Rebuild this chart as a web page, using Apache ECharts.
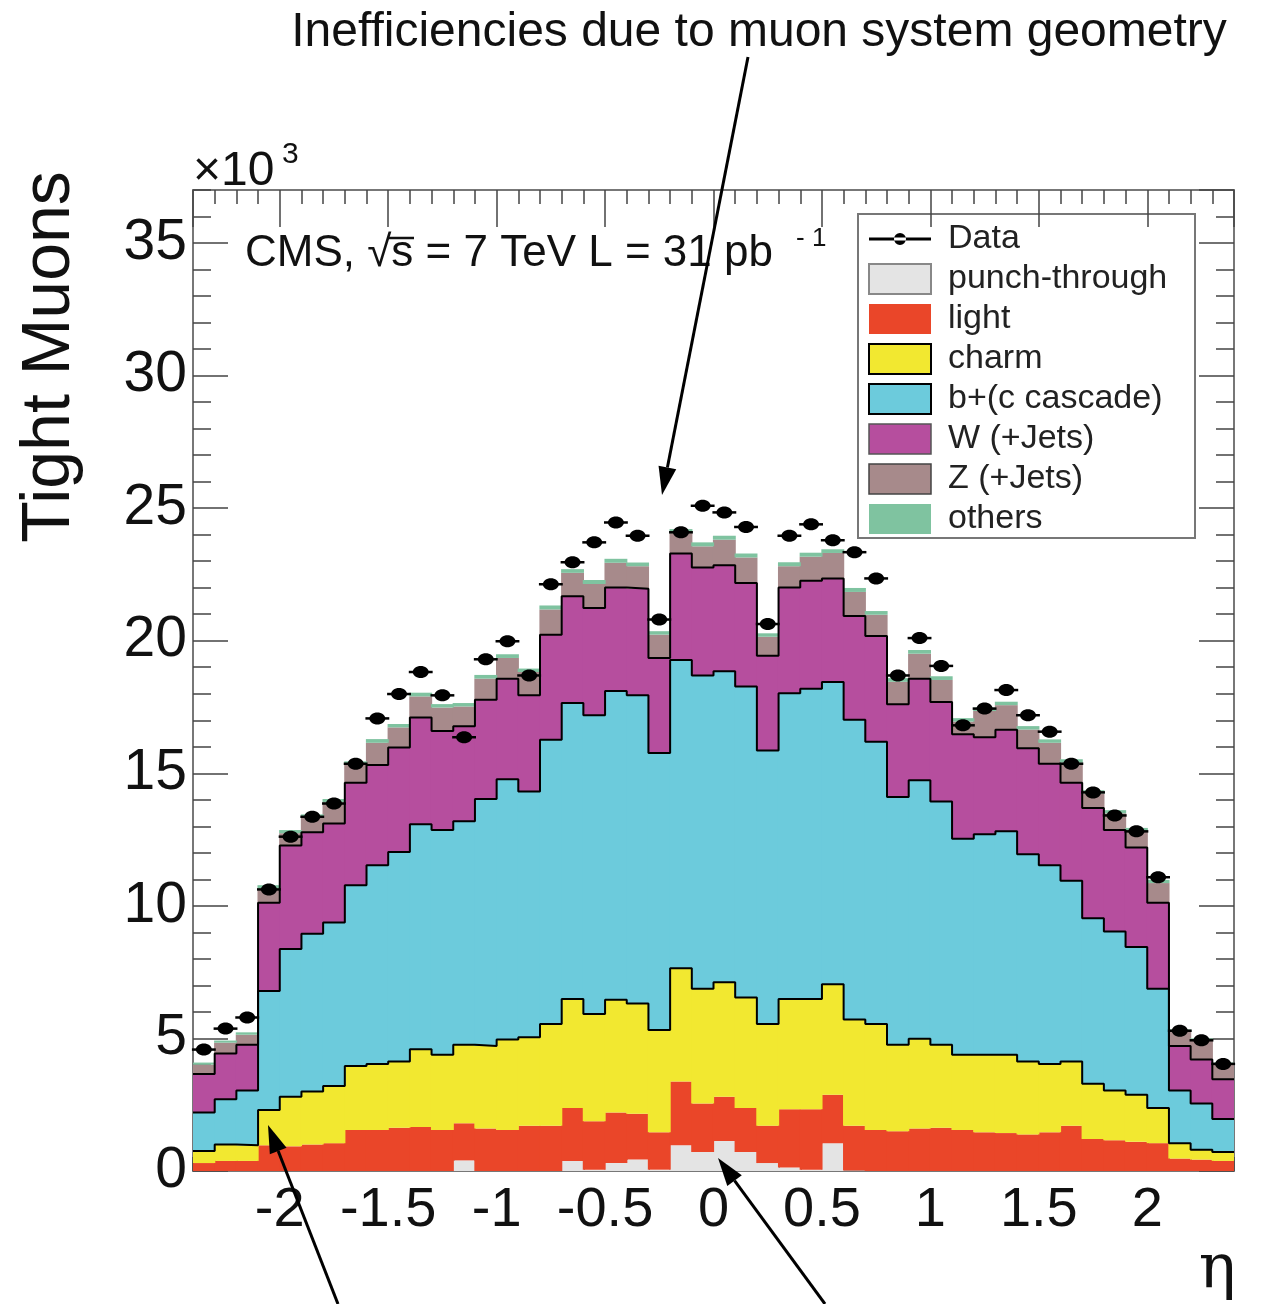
<!DOCTYPE html>
<html>
<head>
<meta charset="utf-8">
<script src="https://cdn.jsdelivr.net/npm/echarts@6/dist/echarts.min.js"></script>
<style>html,body{margin:0;padding:0;background:#fff}#c{width:1263px;height:1304px}</style>
</head>
<body>
<div id="c"></div>
<script>
// 48 bins of eta, width 0.1, from -2.4 to 2.4 ; values in units of 10^3 muons
const etaBins = ['-2.4','-2.3','-2.2','-2.1','-2.0','-1.9','-1.8','-1.7','-1.6','-1.5','-1.4','-1.3','-1.2','-1.1','-1.0','-0.9','-0.8','-0.7','-0.6','-0.5','-0.4','-0.3','-0.2','-0.1',
                 '0.0','0.1','0.2','0.3','0.4','0.5','0.6','0.7','0.8','0.9','1.0','1.1','1.2','1.3','1.4','1.5','1.6','1.7','1.8','1.9','2.0','2.1','2.2','2.3'];
const etaMin = -2.4, etaMax = 2.4, binWidth = 0.1;

const punchThrough = [0,0,0,0,0,0,0,0,0,0,0,0,0.40,0,0,0,0,0.38,0.05,0.30,0.43,0.05,0.97,0.72,
                      1.13,0.72,0.30,0.13,0.05,1.05,0.02,0,0,0,0,0,0,0,0,0,0,0,0,0,0,0,0,0];
const light = [0.30,0.38,0.38,0.97,0.93,1.00,1.05,1.55,1.55,1.63,1.66,1.55,1.40,1.60,1.55,1.71,1.71,2.00,1.83,1.91,1.73,1.41,2.41,1.83,
               1.67,1.66,1.41,2.20,2.28,1.83,1.69,1.55,1.50,1.60,1.63,1.55,1.46,1.43,1.38,1.46,1.71,1.21,1.16,1.10,1.05,0.47,0.43,0.38];
const charm = [0.45,0.62,0.59,1.33,1.87,2.00,2.16,2.41,2.49,2.50,2.93,2.83,2.96,3.11,3.41,3.33,3.83,4.11,4.04,4.25,4.16,3.86,4.27,4.32,
               4.32,4.16,3.83,4.16,4.16,4.16,4.00,3.99,3.26,3.39,3.13,2.83,2.92,2.95,2.75,2.58,2.42,2.08,1.88,1.78,1.33,0.58,0.37,0.34];
const bottom = [1.46,1.71,2.07,4.49,5.57,5.95,6.16,6.82,7.49,7.90,8.49,8.48,8.43,9.32,9.82,9.27,10.73,11.16,11.27,11.64,11.62,10.45,11.62,11.82,
                11.73,11.73,10.32,11.53,11.70,11.40,11.31,10.65,9.35,9.75,9.18,8.15,8.32,8.43,7.82,7.49,6.82,6.24,5.99,5.57,4.49,1.99,1.75,1.24];
const wJets = [1.45,1.72,1.72,3.33,3.91,3.83,3.74,3.86,3.78,3.94,4.02,3.74,3.58,3.74,3.79,3.63,3.96,4.03,4.04,3.91,4.02,3.58,4.02,4.07,
               4.00,3.91,3.57,3.99,4.07,3.91,3.91,3.99,3.49,3.83,3.75,3.94,3.66,3.83,3.99,3.83,3.69,4.16,3.83,3.75,3.25,1.67,1.66,1.50];
const zJets = [0.35,0.41,0.38,0.54,0.46,0.54,0.80,0.68,0.84,0.76,0.80,0.88,0.75,0.80,0.78,0.88,0.95,0.88,0.91,0.93,0.85,0.88,0.77,0.80,
               0.96,0.96,0.72,0.80,0.91,0.96,0.91,0.80,0.85,0.94,0.83,0.48,0.99,0.93,0.71,0.79,0.76,0.55,0.63,0.62,0.74,0.54,0.71,0.55];
const others = [0.08,0.08,0.09,0.12,0.12,0.13,0.12,0.13,0.14,0.13,0.14,0.13,0.13,0.14,0.14,0.13,0.15,0.14,0.15,0.15,0.14,0.13,0.15,0.15,
                0.15,0.15,0.13,0.15,0.15,0.14,0.15,0.14,0.14,0.14,0.14,0.13,0.13,0.13,0.13,0.13,0.13,0.12,0.12,0.12,0.12,0.09,0.08,0.08];
const dataPoints = [4.58,5.37,5.79,10.62,12.61,13.36,13.86,15.36,17.07,17.99,18.82,17.94,16.36,19.30,19.98,18.69,22.13,22.96,23.71,24.46,23.96,20.80,24.09,25.09,
                    24.84,24.29,20.63,23.96,24.39,23.79,23.34,22.35,18.69,20.10,19.05,16.81,17.44,18.14,17.19,16.57,15.36,14.28,13.41,12.81,11.08,5.29,4.93,4.04];

const FONT = 'Liberation Sans, Arial, Helvetica, sans-serif';
const colors = {punch:'#e4e4e4', light:'#ea4629', charm:'#f2e830', b:'#6ccbdc', w:'#b64e9e', z:'#a78a8b', others:'#7fc3a0'};

function cumulative(arrs){ return arrs[0].map((_,i)=>arrs.reduce((s,a)=>s+a[i],0)); }
const charmTop = cumulative([punchThrough, light, charm]);
const bTop = cumulative([punchThrough, light, charm, bottom]);
const wTop = cumulative([punchThrough, light, charm, bottom, wJets]);
function stepData(tops){
  const d = tops.map((v,i)=>[etaMin + i*binWidth, v]);
  d.push([etaMax, tops[tops.length-1]]);
  return d;
}

const barW = 1041/48 + 1.2;
function barSeries(name, arr, color){
  return {name, type:'bar', stack:'mc', xAxisIndex:0, yAxisIndex:0, data:arr, barWidth:barW,
          itemStyle:{color}, emphasis:{disabled:true}, silent:true, z:2};
}
function outline(name, tops){
  return {name, type:'line', xAxisIndex:1, yAxisIndex:0, data:stepData(tops), step:'end', symbol:'none',
          lineStyle:{color:'#000', width:2}, silent:true, z:3};
}

const chart = echarts.init(document.getElementById('c'), null, {renderer:'canvas'});

function arrowGraphic(x1,y1,x2,y2){
  const a = Math.atan2(y2-y1, x2-x1), L = 28, W = 9;
  const bx = x2 - L*Math.cos(a), by = y2 - L*Math.sin(a);
  return [
    {type:'line', shape:{x1, y1, x2:bx, y2:by}, style:{stroke:'#000', lineWidth:3}, z:50},
    {type:'polygon', shape:{points:[[x2,y2],[bx+W*Math.sin(a), by-W*Math.cos(a)],[bx-W*Math.sin(a), by+W*Math.cos(a)]]}, style:{fill:'#000'}, z:50}
  ];
}

const axisLineStyle = {color:'#777', width:2};
const tickStyle = {color:'#444', width:1.5};
const frameLine = {show:true, onZero:false, lineStyle:axisLineStyle};
const noLine = {show:false, onZero:false};

const option = {
  animation:false,
  backgroundColor:'#fff',
  grid:{left:193, right:29, top:190, bottom:133, containLabel:false},
  xAxis:[
    {type:'category', data:etaBins, position:'bottom', boundaryGap:true,
     axisLine:noLine, axisLabel:{show:false},
     axisTick:{show:true, inside:true, length:14, interval:0, lineStyle:tickStyle}, splitLine:{show:false}},
    {type:'value', min:etaMin, max:etaMax, splitNumber:10, position:'bottom',
     axisLine:frameLine,
     axisTick:{show:true, inside:true, length:37, lineStyle:tickStyle},
     axisLabel:{show:true, fontSize:56, fontFamily:FONT, color:'#111', margin:12, showMinLabel:false, showMaxLabel:false},
     splitLine:{show:false}},
    {type:'category', data:etaBins, position:'top', boundaryGap:true,
     axisLine:noLine, axisLabel:{show:false},
     axisTick:{show:true, inside:true, length:14, interval:0, lineStyle:tickStyle}, splitLine:{show:false}},
    {type:'value', min:etaMin, max:etaMax, splitNumber:10, position:'top',
     axisLine:frameLine,
     axisTick:{show:true, inside:true, length:37, lineStyle:tickStyle},
     axisLabel:{show:false}, splitLine:{show:false}}
  ],
  yAxis:[
    {type:'value', min:0, max:37, interval:5, position:'left',
     axisLine:frameLine,
     axisTick:{show:true, inside:true, length:35, lineStyle:tickStyle},
     axisLabel:{show:true, fontSize:57, fontFamily:FONT, color:'#111', margin:6, showMaxLabel:false},
     splitLine:{show:false}},
    {type:'value', min:0, max:37, interval:1, position:'left',
     axisLine:noLine, axisTick:{show:true, inside:true, length:18, lineStyle:tickStyle},
     axisLabel:{show:false}, splitLine:{show:false}},
    {type:'value', min:0, max:37, interval:5, position:'right',
     axisLine:frameLine,
     axisTick:{show:true, inside:true, length:35, lineStyle:tickStyle},
     axisLabel:{show:false}, splitLine:{show:false}},
    {type:'value', min:0, max:37, interval:1, position:'right',
     axisLine:noLine, axisTick:{show:true, inside:true, length:18, lineStyle:tickStyle},
     axisLabel:{show:false}, splitLine:{show:false}}
  ],
  legend:{
    orient:'vertical', left:868, top:222, padding:0, itemWidth:62, itemHeight:30, itemGap:6,
    selectedMode:false,
    textStyle:{fontSize:34, fontFamily:FONT, color:'#222', padding:[0,0,0,12]},
    data:[
      {name:'Data', icon:'path://M0,14h62v3h-62z M25,15.5a6,6 0 1,0 12,0a6,6 0 1,0 -12,0z', itemStyle:{color:'#000'}},
      {name:'punch-through', icon:'rect', itemStyle:{color:colors.punch, borderColor:'#888', borderWidth:2}},
      {name:'light', icon:'rect', itemStyle:{color:colors.light, borderWidth:0}},
      {name:'charm', icon:'rect', itemStyle:{color:colors.charm, borderColor:'#000', borderWidth:2}},
      {name:'b+(c cascade)', icon:'rect', itemStyle:{color:colors.b, borderColor:'#000', borderWidth:2}},
      {name:'W (+Jets)', icon:'rect', itemStyle:{color:colors.w, borderColor:'#555', borderWidth:1.5}},
      {name:'Z (+Jets)', icon:'rect', itemStyle:{color:colors.z, borderColor:'#444', borderWidth:1.5}},
      {name:'others', icon:'rect', itemStyle:{color:colors.others, borderWidth:0}}
    ]
  },
  series:[
    barSeries('punch-through', punchThrough, colors.punch),
    barSeries('light', light, colors.light),
    barSeries('charm', charm, colors.charm),
    barSeries('b+(c cascade)', bottom, colors.b),
    barSeries('W (+Jets)', wJets, colors.w),
    barSeries('Z (+Jets)', zJets, colors.z),
    barSeries('others', others, colors.others),
    outline('charmOutline', charmTop),
    outline('bOutline', bTop),
    outline('wOutline', wTop),
    {name:'Data', type:'custom', xAxisIndex:0, yAxisIndex:0, z:10, silent:true,
     itemStyle:{color:'#000'},
     data:dataPoints.map((v,i)=>[i,v]),
     renderItem:function(params, api){
       const p = api.coord([api.value(0), api.value(1)]);
       const bw = api.size([1,0])[0];
       return {type:'group', children:[
         {type:'line', shape:{x1:p[0]-bw*0.55, y1:p[1], x2:p[0]+bw*0.55, y2:p[1]}, style:{stroke:'#000', lineWidth:2.5}},
         {type:'ellipse', shape:{cx:p[0], cy:p[1], rx:8, ry:6}, style:{fill:'#000'}}
       ]};
     }}
  ],
  graphic:[
    {type:'rect', shape:{x:858, y:214, width:337, height:324}, style:{fill:'#fff', stroke:'#777', lineWidth:2}, z:-1},
    {type:'text', x:759, y:9, style:{text:'Inefficiencies due to muon system geometry', font:'48px '+FONT, fill:'#111', textAlign:'center'}},
    {type:'text', x:50, y:357, rotation:Math.PI/2, style:{text:'Tight Muons', font:'68px '+FONT, fill:'#111', textAlign:'center', textVerticalAlign:'middle'}},
    {type:'text', x:193, y:148, style:{text:'×10', font:'48px '+FONT, fill:'#111'}},
    {type:'text', x:282, y:140, style:{text:'3', font:'30px '+FONT, fill:'#111'}},
    {type:'text', x:245, y:232, style:{text:'CMS, √s = 7 TeV L = 31 pb', font:'44px '+FONT, fill:'#111'}},
    {type:'line', shape:{x1:388, y1:238, x2:414, y2:238}, style:{stroke:'#111', lineWidth:2.5}},
    {type:'text', x:796, y:226, style:{text:'- 1', font:'26px '+FONT, fill:'#111'}},
    {type:'text', x:1236, y:1240, style:{text:'η', font:'62px DejaVu Serif, serif', fill:'#111', textAlign:'right'}}
  ].concat(arrowGraphic(748,57,662,495), arrowGraphic(338,1304,268,1125), arrowGraphic(825,1304,718,1158))
};
chart.setOption(option);
</script>
</body>
</html>
